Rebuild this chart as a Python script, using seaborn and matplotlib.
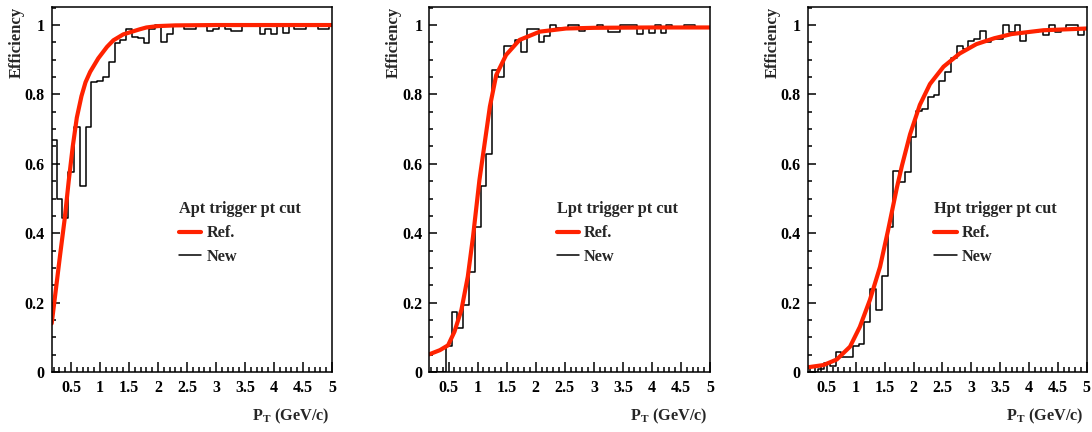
import matplotlib
matplotlib.use("Agg")
import matplotlib.pyplot as plt
import seaborn as sns
import pandas as pd
from matplotlib.ticker import MultipleLocator, FixedLocator, FixedFormatter

# ---------------- data ----------------
pt_bins = [0.2, 0.3, 0.4, 0.5, 0.6, 0.7, 0.8, 0.9, 1.0, 1.1, 1.2, 1.3, 1.4, 1.5,
           1.6, 1.7, 1.8, 1.9, 2.0, 2.1, 2.2, 2.3, 2.4, 2.5, 2.6, 2.7, 2.8, 2.9,
           3.0, 3.1, 3.2, 3.3, 3.4, 3.5, 3.6, 3.7, 3.8, 3.9, 4.0, 4.1, 4.2, 4.3,
           4.4, 4.5, 4.6, 4.7, 4.8, 4.9, 5.0]

apt_new = [0.67, 0.50, 0.445, 0.575, 0.705, 0.535, 0.705, 0.835, 0.838, 0.85,
           0.893, 0.947, 0.957, 0.99, 0.965, 0.962, 0.947, 0.988, 1.0, 0.952,
           0.975, 1.0, 1.0, 0.99, 0.99, 1.0, 1.0, 0.983, 0.99, 1.0, 0.99, 0.983,
           0.983, 1.0, 1.0, 1.0, 0.975, 0.99, 0.975, 1.0, 0.978, 1.0, 0.99, 0.99,
           1.0, 1.0, 0.99, 0.99, 1.0]

lpt_new = [0.0, 0.0, 0.0, 0.076, 0.172, 0.126, 0.193, 0.287, 0.417, 0.535,
           0.627, 0.870, 0.85, 0.940, 0.940, 0.958, 0.923, 0.988, 0.988, 0.952,
           0.969, 1.0, 0.992, 0.992, 1.0, 1.0, 0.983, 0.992, 0.992, 1.0, 0.992,
           0.981, 0.981, 1.0, 1.0, 1.0, 0.975, 0.992, 0.978, 1.0, 0.978, 1.0,
           0.992, 0.992, 1.0, 1.0, 0.992, 0.992, 0.992]

hpt_new = [0.0, 0.0, 0.01, 0.025, 0.016, 0.057, 0.044, 0.044, 0.075, 0.082,
           0.143, 0.239, 0.179, 0.277, 0.419, 0.580, 0.548, 0.577, 0.678, 0.753,
           0.758, 0.793, 0.798, 0.839, 0.864, 0.904, 0.939, 0.93, 0.954, 0.96,
           0.983, 0.95, 0.96, 0.96, 1.0, 0.98, 1.0, 0.954, 0.98, 0.98, 0.987,
           0.97, 1.0, 0.98, 0.99, 1.0, 1.0, 0.972, 0.99]

apt_ref_pt = [0.167, 0.25, 0.31, 0.39, 0.46, 0.53, 0.6, 0.68, 0.75, 0.83, 0.97,
              1.12, 1.23, 1.40, 1.69, 1.8, 2.0, 2.3, 3.0, 4.0, 5.0]
apt_ref_eff = [0.14, 0.253, 0.335, 0.44, 0.55, 0.65, 0.733, 0.795, 0.835, 0.865,
               0.904, 0.937, 0.956, 0.973, 0.988, 0.993, 0.997, 0.999, 1.0, 1.0, 1.0]

lpt_ref_pt = [0.167, 0.35, 0.49, 0.6, 0.72, 0.83, 0.92, 1.03, 1.12, 1.21, 1.32,
              1.49, 1.72, 2.07, 2.52, 3.0, 4.0, 5.0]
lpt_ref_eff = [0.051, 0.063, 0.077, 0.116, 0.179, 0.275, 0.39, 0.553, 0.659,
               0.765, 0.856, 0.914, 0.957, 0.981, 0.99, 0.992, 0.993, 0.993]

hpt_ref_pt = [0.167, 0.44, 0.67, 0.9, 1.07, 1.245, 1.42, 1.56, 1.71, 1.8, 1.94,
              2.11, 2.285, 2.52, 2.8, 3.09, 3.4, 3.7, 4.25, 5.0]
hpt_ref_eff = [0.0135, 0.02, 0.036, 0.073, 0.13, 0.208, 0.303, 0.409, 0.53, 0.595,
               0.685, 0.77, 0.83, 0.88, 0.918, 0.945, 0.962, 0.974, 0.985, 0.99]

panel_titles = ["Apt trigger pt cut", "Lpt trigger pt cut", "Hpt trigger pt cut"]
x_ticks = [0.5, 1, 1.5, 2, 2.5, 3, 3.5, 4, 4.5, 5]
x_tick_labels = ["0.5", "1", "1.5", "2", "2.5", "3", "3.5", "4", "4.5", "5"]
y_ticks = [0, 0.2, 0.4, 0.6, 0.8, 1.0]
y_tick_labels = ["0", "0.2", "0.4", "0.6", "0.8", "1"]

# ---------------- style ----------------
sns.set_style("white")
plt.rcParams["font.family"] = ["Liberation Serif", "DejaVu Serif"]
plt.rcParams["font.weight"] = "bold"
plt.rcParams["mathtext.fontset"] = "custom"
plt.rcParams["mathtext.bf"] = "Liberation Serif:bold"
plt.rcParams["mathtext.rm"] = "Liberation Serif:bold"
plt.rcParams["mathtext.it"] = "Liberation Serif:bold"

RED = "#ff2200"
FS = 11.7
W, H = 1092, 432
fig = plt.figure(figsize=(W / 100, H / 100), dpi=100)

panels = [
    (51.7, 280.3, apt_new, apt_ref_pt, apt_ref_eff),
    (429.3, 280.7, lpt_new, lpt_ref_pt, lpt_ref_eff),
    (807.7, 279.0, hpt_new, hpt_ref_pt, hpt_ref_eff),
]
edges = [c - 0.05 for c in pt_bins] + [pt_bins[-1] + 0.05]

for i, (left, width, new_vals, ref_x, ref_y) in enumerate(panels):
    ax = fig.add_axes([left / W, (H - 372) / H, width / W, 365 / H])
    df_new = pd.DataFrame({"pt": pt_bins, "eff": new_vals})
    sns.histplot(data=df_new, x="pt", weights="eff", bins=edges, element="step",
                 fill=False, color="black", linewidth=1.1, ax=ax)
    df_ref = pd.DataFrame({"pt": ref_x, "eff": ref_y})
    sns.lineplot(data=df_ref, x="pt", y="eff", color=RED, linewidth=3.0, ax=ax,
                 legend=False)

    ax.set_xlim(0.167, 5.0)
    ax.set_ylim(0, 1.052)

    ax.xaxis.set_major_locator(FixedLocator(x_ticks))
    ax.xaxis.set_major_formatter(FixedFormatter(x_tick_labels))
    ax.xaxis.set_minor_locator(MultipleLocator(0.1))
    ax.yaxis.set_major_locator(FixedLocator(y_ticks))
    ax.yaxis.set_major_formatter(FixedFormatter(y_tick_labels))
    ax.yaxis.set_minor_locator(MultipleLocator(0.05))
    ax.tick_params(which="both", direction="in", top=False, right=False,
                   bottom=True, left=True, width=1.1, colors="black",
                   labelsize=11.5)
    ax.tick_params(axis="x", which="major", length=7, pad=6)
    ax.tick_params(axis="x", which="minor", length=3.5)
    ax.tick_params(axis="y", which="major", length=6, pad=5)
    ax.tick_params(axis="y", which="minor", length=3)
    for lab in ax.get_xticklabels() + ax.get_yticklabels():
        lab.set_fontweight("bold")
    for sp in ax.spines.values():
        sp.set_visible(True)
        sp.set_color("black")
        sp.set_linewidth(1.1)

    ax.set_ylabel("Efficiency", fontsize=12, fontweight="bold", loc="top")
    ax.yaxis.set_label_coords(-0.097, 1.0)
    ax.set_xlabel(r"$\mathbf{P}_{\mathbf{T}}$ (GeV/c)", fontsize=FS,
                  fontweight="bold", loc="right")
    ax.xaxis.set_label_coords(0.99, -0.095)

    ref_handle = plt.Line2D([], [], color=RED, linewidth=3.0)
    new_handle = plt.Line2D([], [], color="black", linewidth=1.1)
    ax.legend([ref_handle, new_handle], ["Ref.", "New"], title=panel_titles[i],
              loc="upper left", bbox_to_anchor=(0.43, 0.485), frameon=False,
              alignment="left", prop={"weight": "bold", "size": FS},
              title_fontproperties={"weight": "bold", "size": FS},
              handlelength=1.4, handletextpad=0.3, labelspacing=0.48,
              borderaxespad=0.0)

fig.savefig("out.png", dpi=100, facecolor="white")
